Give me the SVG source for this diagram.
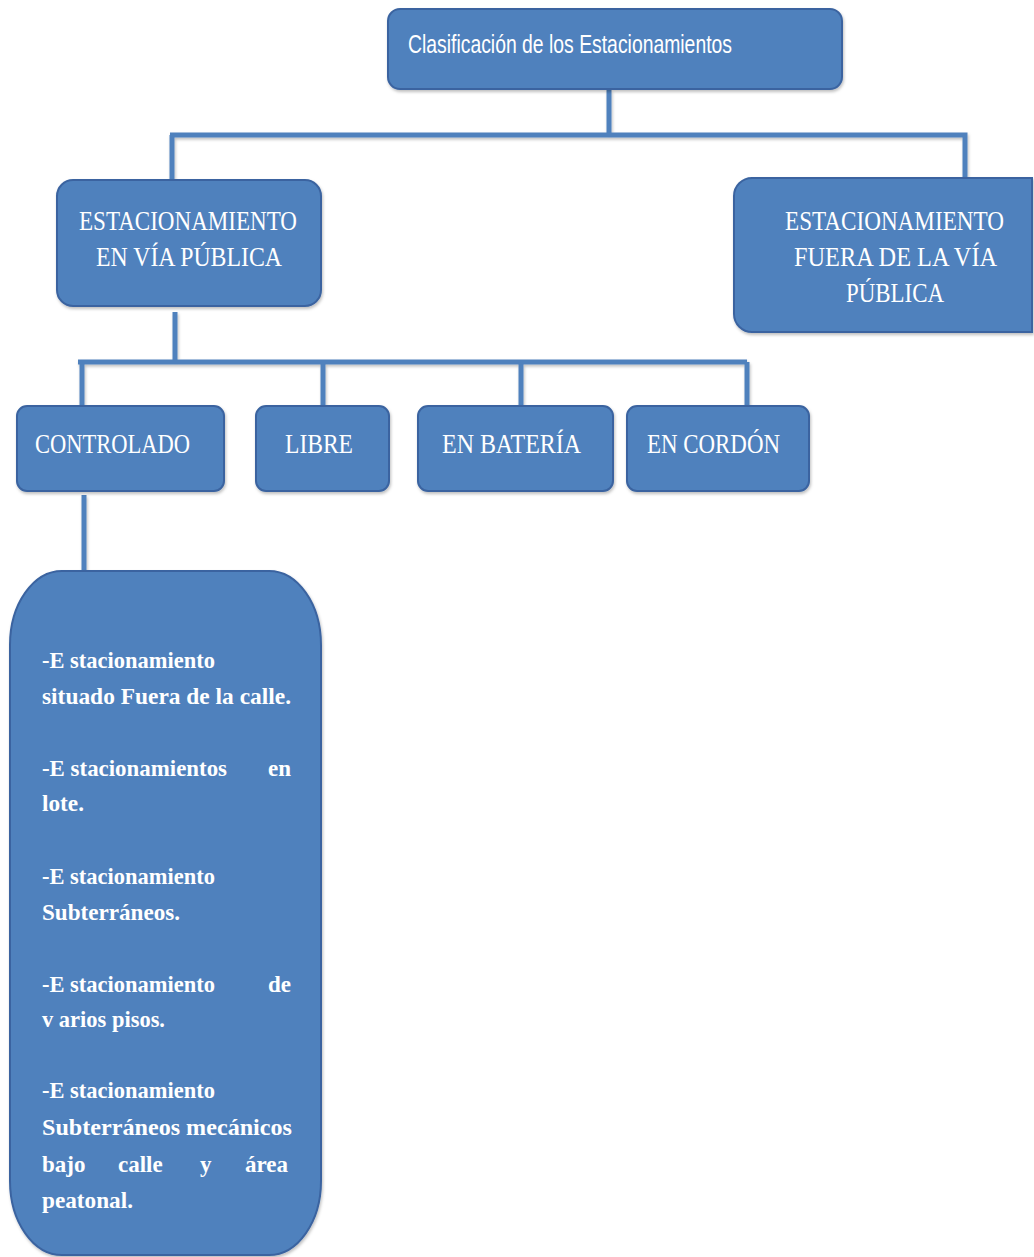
<svg xmlns="http://www.w3.org/2000/svg" width="1034" height="1257" viewBox="0 0 1034 1257">
<defs>
<filter id="sh" filterUnits="userSpaceOnUse" x="0" y="0" width="1034" height="1257">
<feDropShadow dx="1" dy="2" stdDeviation="1.5" flood-color="#000" flood-opacity="0.25"/>
</filter>
<style>
.box{fill:#4f81bd;stroke:#3b64a0;stroke-width:2;filter:url(#sh)}
.con{fill:none;stroke:#4f81bd;stroke-width:5;filter:url(#sh)}
.sans{font-family:"Liberation Sans",Arial,sans-serif;fill:#fff}
.serif{font-family:"Liberation Serif","Times New Roman",serif;fill:#fff;font-size:28px}
.body{font-family:"Liberation Serif","Times New Roman",serif;fill:#fff;font-size:23px;font-weight:bold}
</style>
</defs>
<rect width="1034" height="1257" fill="#fff"/>
<g id="connectors">
<path class="con" d="M609 90 V135 M170 135 H965 V179 M172 135 V181"/>
<path class="con" d="M175 312 V362 M78 362 H747 M82 362 V408 M323 362 V406 M521 362 V406 M747 362 V406"/>
<path class="con" d="M84 495 V571"/>
</g>
<g id="n-root">
<rect class="box" x="388" y="9" width="454" height="80" rx="12"/>
<text class="sans" x="408" y="53" font-size="25" textLength="324" lengthAdjust="spacingAndGlyphs">Clasificación de los Estacionamientos</text>
</g>
<g id="n-via">
<rect class="box" x="57" y="180" width="264" height="126" rx="16"/>
<text class="serif" x="79" y="230" textLength="218" lengthAdjust="spacingAndGlyphs">ESTACIONAMIENTO</text>
<text class="serif" x="96" y="266" textLength="186" lengthAdjust="spacingAndGlyphs">EN VÍA PÚBLICA</text>
</g>
<g id="n-fuera">
<path class="box" d="M752 178 H1032 V332 H752 A18 18 0 0 1 734 314 V196 A18 18 0 0 1 752 178 Z"/>
<text class="serif" transform="translate(785 230) scale(0.82 1)" x="0" y="0" textLength="267" lengthAdjust="spacingAndGlyphs">ESTACIONAMIENTO</text>
<text class="serif" transform="translate(794 266) scale(0.857 1)" x="0" y="0" textLength="237" lengthAdjust="spacingAndGlyphs">FUERA DE LA VÍA</text>
<text class="serif" x="846" y="302" textLength="98" lengthAdjust="spacingAndGlyphs">PÚBLICA</text>
</g>
<g id="n-controlado">
<rect class="box" x="17" y="406" width="207" height="85" rx="10"/>
<text class="serif" x="35" y="453" textLength="155" lengthAdjust="spacingAndGlyphs">CONTROLADO</text>
</g>
<g id="n-libre">
<rect class="box" x="256" y="406" width="133" height="85" rx="10"/>
<text class="serif" x="285" y="453" textLength="68" lengthAdjust="spacingAndGlyphs">LIBRE</text>
</g>
<g id="n-bateria">
<rect class="box" x="418" y="406" width="195" height="85" rx="10"/>
<text class="serif" x="442" y="453" textLength="139" lengthAdjust="spacingAndGlyphs">EN BATERÍA</text>
</g>
<g id="n-cordon">
<rect class="box" x="627" y="406" width="182" height="85" rx="10"/>
<text class="serif" x="647" y="453" textLength="133" lengthAdjust="spacingAndGlyphs">EN CORDÓN</text>
</g>
<g id="n-lista">
<rect class="box" x="10" y="571" width="311" height="684" rx="52" ry="74"/>
<text class="body" x="42" y="668" textLength="173" lengthAdjust="spacingAndGlyphs">-E stacionamiento</text>
<text class="body" x="42" y="704" textLength="249" lengthAdjust="spacingAndGlyphs">situado Fuera de la calle.</text>
<text class="body" x="42" y="776" textLength="185" lengthAdjust="spacingAndGlyphs">-E stacionamientos</text>
<text class="body" x="291" y="776" text-anchor="end">en</text>
<text class="body" x="42" y="811" textLength="42" lengthAdjust="spacingAndGlyphs">lote.</text>
<text class="body" x="42" y="884" textLength="173" lengthAdjust="spacingAndGlyphs">-E stacionamiento</text>
<text class="body" x="42" y="920" textLength="138" lengthAdjust="spacingAndGlyphs">Subterráneos.</text>
<text class="body" x="42" y="992" textLength="173" lengthAdjust="spacingAndGlyphs">-E stacionamiento</text>
<text class="body" x="291" y="992" text-anchor="end">de</text>
<text class="body" x="42" y="1027" textLength="123" lengthAdjust="spacingAndGlyphs">v arios pisos.</text>
<text class="body" x="42" y="1098" textLength="173" lengthAdjust="spacingAndGlyphs">-E stacionamiento</text>
<text class="body" x="42" y="1135" textLength="250" lengthAdjust="spacingAndGlyphs">Subterráneos mecánicos</text>
<text class="body" y="1172"><tspan x="42">bajo</tspan><tspan x="118">calle</tspan><tspan x="200">y</tspan><tspan x="245">área</tspan></text>
<text class="body" x="42" y="1208" textLength="91" lengthAdjust="spacingAndGlyphs">peatonal.</text>
</g>
</svg>
